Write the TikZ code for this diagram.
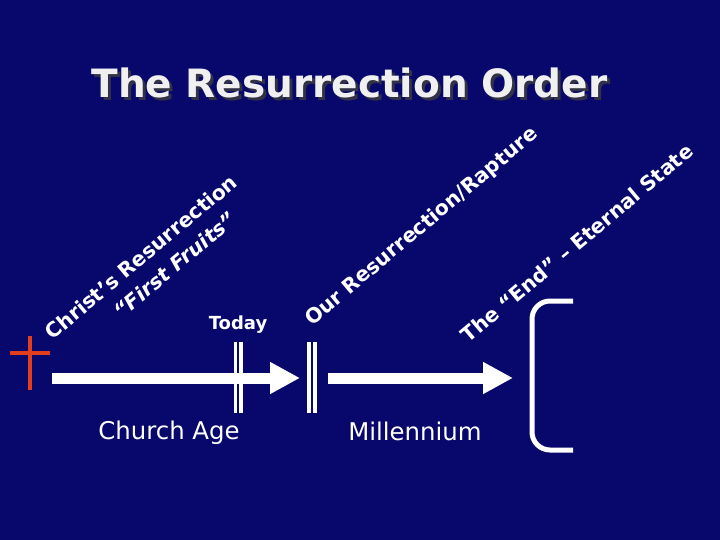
\documentclass[tikz,border=0pt]{standalone}
\usepackage{fontspec}
\setmainfont{DejaVu Sans}
\usetikzlibrary{arrows.meta}
\definecolor{slidebg}{RGB}{8,8,108}
\definecolor{crossred}{RGB}{226,62,30}
\definecolor{titlewhite}{RGB}{240,240,240}
\definecolor{titleshade}{RGB}{50,50,70}
\newcommand{\shadowtext}[1]{\makebox[0pt][l]{\hspace{3pt}\raisebox{-2.5pt}{\textcolor{titleshade}{#1}}}\textcolor{titlewhite}{#1}}

\begin{document}
\begin{tikzpicture}[x=1pt,y=-1pt,
    slanttext/.style={text=white,font=\bfseries\fontsize{20.4}{24}\selectfont,rotate=40,inner sep=0pt},
    eratext/.style={text=white,font=\fontsize{24.4}{29}\selectfont,anchor=base,inner sep=0pt},
    whitearrow/.style={white,line width=11pt,-{Triangle[length=30pt,width=30pt]}},
    markbar/.style={white,line width=3.5pt}]
    \fill [slidebg] (0,0) rectangle (720,540);
    \useasboundingbox (0,0) rectangle (720,540);
    % title with its shadow
    \node [font=\bfseries\fontsize{39}{47}\selectfont,anchor=base,inner sep=0pt] (title) at (349.5,98) {\shadowtext{The Resurrection Order}};
    % the cross
    \coordinate (crossTop) at (30,336);
    \coordinate (crossFoot) at (30,390);
    \coordinate (crossLeft) at (10,353);
    \coordinate (crossRight) at (50,353);
    \draw [crossred,line width=4pt] (crossTop) -- (crossFoot);
    \draw [crossred,line width=4pt] (crossLeft) -- (crossRight);
    % timeline
    \coordinate (ageStart) at (52,378);
    \coordinate (ageEnd) at (300,378);
    \coordinate (kingdomStart) at (328,378);
    \coordinate (kingdomEnd) at (513,378);
    \foreach \bx in {235.3,241,309,315}
        \draw [markbar] (\bx,342) -- (\bx,413);
    \draw [whitearrow] (ageStart) -- (ageEnd);
    \draw [whitearrow] (kingdomStart) -- (kingdomEnd);
    \draw [white,line width=5pt,rounded corners=18pt] (573,301) -- (532,301) -- (532,450) -- (573,450);
    % labels
    \node [font=\bfseries\fontsize{18}{22}\selectfont,text=white,anchor=base,inner sep=0pt] (today) at (238,329) {Today};
    \node [eratext] (churchAge) at (169,439) {Church Age};
    \node [eratext] (millennium) at (415,440) {Millennium};
    \node [slanttext] (christRes) at (141,257) {Christ’s Resurrection};
    \node [slanttext,font=\bfseries\itshape\fontsize{20.4}{24}\selectfont] (firstFruits) at (175,265) {“First Fruits”};
    \node [slanttext] (ourRes) at (422,227) {Our Resurrection/Rapture};
    \node [slanttext] (theEnd) at (577,243) {The “End” – Eternal State};
\end{tikzpicture}
\end{document}
